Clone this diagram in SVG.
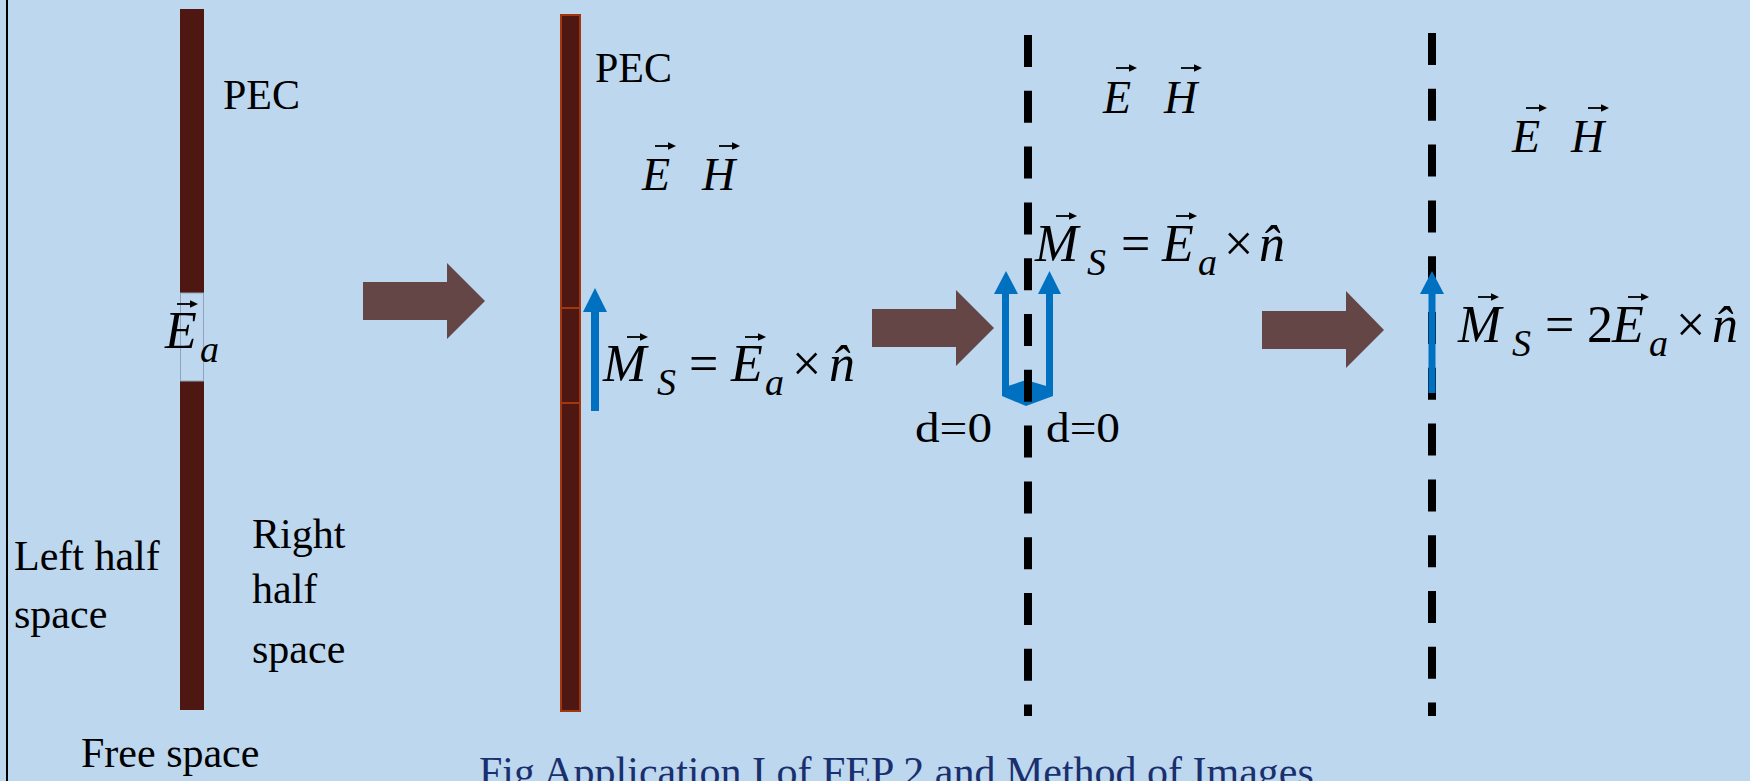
<svg xmlns="http://www.w3.org/2000/svg" width="1750" height="781" viewBox="0 0 1750 781">
<style>
.t{font-family:"Liberation Serif","Times New Roman",serif;font-size:42px;fill:#000}
.m{font-family:"Liberation Serif","Times New Roman",serif;font-style:italic;fill:#000}
.u{font-family:"Liberation Serif","Times New Roman",serif;fill:#000}
.big{font-size:52px}
.mid{font-size:46px}
.sub{font-size:38px}
.bar{fill:#4F1711}
.blue{fill:#0070C0}
.blk{fill:#644646}
.dash{stroke:#000;stroke-width:8;stroke-dasharray:32 23.8;fill:none}
.cap{font-family:"Liberation Serif","Times New Roman",serif;font-size:42px;fill:#1A2F6E}
</style>
<defs>
<g id="vec"><line x1="0" y1="0" x2="17" y2="0" stroke="#000" stroke-width="1.8"/><polygon points="13,-3.8 21,0 13,3.8" fill="#000"/></g>
</defs>
<rect x="0" y="0" width="1750" height="781" fill="#BDD7EE"/>
<line x1="7" y1="0" x2="7" y2="781" stroke="#000" stroke-width="2"/>

<g id="panel1">
<rect class="bar" x="180" y="9" width="24" height="284"/>
<rect class="bar" x="180" y="381" width="24" height="329"/>
<rect x="180.5" y="293" width="23" height="88" fill="none" stroke="#8FA3BF" stroke-width="1"/>
<text class="t" x="223" y="109">PEC</text>
<text class="m big" x="165" y="348">E</text>
<text class="m sub" x="200" y="362">a</text>
<use href="#vec" x="177" y="304"/>
<text class="t" x="14" y="570">Left half</text>
<text class="t" x="14" y="628">space</text>
<text class="t" x="252" y="548">Right</text>
<text class="t" x="252" y="603">half</text>
<text class="t" x="252" y="663">space</text>
<text class="t" x="81" y="767">Free space</text>
</g>

<g id="panel2">
<rect x="561" y="15" width="19" height="696" fill="#4F1711" stroke="#A1360F" stroke-width="2"/>
<line x1="561" y1="308" x2="580" y2="308" stroke="#A1360F" stroke-width="2"/>
<line x1="561" y1="403" x2="580" y2="403" stroke="#A1360F" stroke-width="2"/>
<text class="t" x="595" y="82">PEC</text>
<text class="m mid" x="642" y="190">E</text>
<text class="m mid" x="702" y="190">H</text>
<use href="#vec" x="655" y="146"/>
<use href="#vec" x="719" y="146"/>
<rect class="blue" x="591" y="310" width="8" height="101"/>
<polygon class="blue" points="583,312 595,288 607,312"/>
<text class="m big" x="603" y="381">M</text>
<text class="m sub" x="657" y="395">S</text>
<text class="u big" x="689" y="381">=</text>
<text class="m big" x="731" y="381">E</text>
<text class="m sub" x="765" y="395">a</text>
<text class="u big" x="792" y="381">×</text>
<text class="m big" x="829" y="381">n̂</text>
<use href="#vec" x="627" y="337"/>
<use href="#vec" x="745" y="337"/>
</g>

<g id="panel3">
<rect class="blue" x="1002" y="292" width="7" height="104"/>
<polygon class="blue" points="994,294 1006,271 1018,294"/>
<rect class="blue" x="1046" y="292" width="7" height="104"/>
<polygon class="blue" points="1038,294 1049.5,271 1061,294"/>
<path class="blue" d="M1002,388 L1026,380 L1053,388 L1053,396 L1026,406 L1002,396 Z"/>
<line class="dash" x1="1028" y1="35" x2="1028" y2="716"/>
<text class="m mid" x="1103" y="113">E</text>
<text class="m mid" x="1164" y="113">H</text>
<use href="#vec" x="1116" y="68"/>
<use href="#vec" x="1181" y="68"/>
<text class="m big" x="1035" y="261">M</text>
<text class="m sub" x="1087" y="275">S</text>
<text class="u big" x="1121" y="261">=</text>
<text class="m big" x="1162" y="261">E</text>
<text class="m sub" x="1198" y="275">a</text>
<text class="u big" x="1224" y="261">×</text>
<text class="m big" x="1259" y="261">n̂</text>
<use href="#vec" x="1056" y="216"/>
<use href="#vec" x="1176" y="216"/>
<text class="t" x="915" y="442" textLength="77" lengthAdjust="spacingAndGlyphs">d=0</text>
<text class="t" x="1046" y="442" textLength="74" lengthAdjust="spacingAndGlyphs">d=0</text>
</g>

<g id="panel4">
<line class="dash" x1="1432" y1="33" x2="1432" y2="716"/>
<rect class="blue" x="1428.5" y="292" width="7" height="101"/>
<polygon class="blue" points="1420,294 1432,271 1444,294"/>
<text class="m mid" x="1512" y="152">E</text>
<text class="m mid" x="1571" y="152">H</text>
<use href="#vec" x="1526" y="108"/>
<use href="#vec" x="1588" y="108"/>
<text class="m big" x="1458" y="342">M</text>
<text class="m sub" x="1512" y="356">S</text>
<text class="u big" x="1545" y="342">=</text>
<text class="u big" x="1587" y="342">2</text>
<text class="m big" x="1612" y="342">E</text>
<text class="m sub" x="1649" y="356">a</text>
<text class="u big" x="1676" y="342">×</text>
<text class="m big" x="1712" y="342">n̂</text>
<use href="#vec" x="1478" y="297"/>
<use href="#vec" x="1628" y="297"/>
</g>

<g id="connectors">
<polygon class="blk" points="363,282 447,282 447,263 485,301 447,339 447,320 363,320"/>
<polygon class="blk" points="872,309 956,309 956,290 994,328 956,366 956,347 872,347"/>
<polygon class="blk" points="1262,311 1346,311 1346,291 1384,330 1346,368 1346,349 1262,349"/>
</g>

<text class="cap" x="479" y="786">Fig Application I of FEP 2 and Method of Images</text>
</svg>
